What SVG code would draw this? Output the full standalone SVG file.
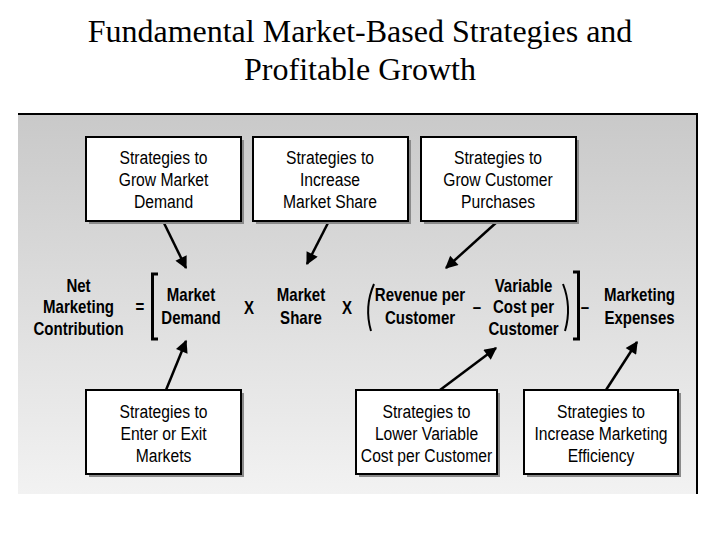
<svg xmlns="http://www.w3.org/2000/svg" width="720" height="540" viewBox="0 0 720 540">
<defs>
<linearGradient id="bg" x1="0" y1="0" x2="0" y2="1">
<stop offset="0" stop-color="#c9c9c9"/>
<stop offset="1" stop-color="#f2f2f2"/>
</linearGradient>
<marker id="ah2" viewBox="0 0 10 10" refX="9" refY="5" markerWidth="5.5" markerHeight="5" orient="auto">
<path d="M0,0 L10,5 L0,10 z" fill="#000"/>
</marker>
</defs>
<style>
.title{font-family:"Liberation Serif","Times New Roman",serif;font-size:32px;fill:#000;text-anchor:middle}
.t{font-family:"Liberation Sans",Arial,sans-serif;font-size:18px;fill:#000;text-anchor:middle}
.e{font-family:"Liberation Sans",Arial,sans-serif;font-size:17.5px;font-weight:bold;fill:#000;text-anchor:middle}
.shadow{fill:#8a8a8a}
.box{fill:#fff;stroke:#000;stroke-width:2}
.c{stroke:#000;stroke-width:2.5;fill:none}
.br{stroke:#000;stroke-width:3;fill:none}
.pa{stroke:#000;stroke-width:2;fill:none}
</style>
<rect width="720" height="540" fill="#fff"/>
<text class="title" x="360" y="42">Fundamental Market-Based Strategies and</text>
<text class="title" x="360" y="80">Profitable Growth</text>
<g id="panel">
<rect x="18" y="114" width="679" height="380" fill="url(#bg)"/>
<path d="M18,114 H697 V494" stroke="#000" stroke-width="2" fill="none"/>
</g>
<g id="connectors">
<line class="c" x1="163" y1="221" x2="186" y2="268" marker-end="url(#ah2)"/>
<line class="c" x1="329" y1="221" x2="307" y2="264" marker-end="url(#ah2)"/>
<line class="c" x1="498" y1="221" x2="446" y2="268" marker-end="url(#ah2)"/>
<line class="c" x1="166" y1="390" x2="186" y2="341" marker-end="url(#ah2)"/>
<line class="c" x1="440" y1="390" x2="496" y2="348" marker-end="url(#ah2)"/>
<line class="c" x1="606" y1="390" x2="637" y2="342" marker-end="url(#ah2)"/>
</g>
<g id="box-grow-demand">
<rect class="shadow" x="89" y="140" width="155" height="84"/>
<rect class="box" x="86" y="137" width="155" height="84"/>
<text class="t" transform="translate(163.5,164) scale(0.87,1)">Strategies to</text>
<text class="t" transform="translate(163.5,186) scale(0.87,1)">Grow Market</text>
<text class="t" transform="translate(163.5,208) scale(0.87,1)">Demand</text>
</g>
<g id="box-increase-share">
<rect class="shadow" x="256" y="140" width="155" height="84"/>
<rect class="box" x="253" y="137" width="155" height="84"/>
<text class="t" transform="translate(330,164) scale(0.87,1)">Strategies to</text>
<text class="t" transform="translate(330,186) scale(0.87,1)">Increase</text>
<text class="t" transform="translate(330,208) scale(0.87,1)">Market Share</text>
</g>
<g id="box-grow-purchases">
<rect class="shadow" x="424" y="140" width="155" height="84"/>
<rect class="box" x="421" y="137" width="155" height="84"/>
<text class="t" transform="translate(498,164) scale(0.87,1)">Strategies to</text>
<text class="t" transform="translate(498,186) scale(0.87,1)">Grow Customer</text>
<text class="t" transform="translate(498,208) scale(0.87,1)">Purchases</text>
</g>
<g id="box-enter-exit">
<rect class="shadow" x="89" y="393" width="155" height="84"/>
<rect class="box" x="86" y="390" width="155" height="84"/>
<text class="t" transform="translate(163.5,418) scale(0.87,1)">Strategies to</text>
<text class="t" transform="translate(163.5,440) scale(0.87,1)">Enter or Exit</text>
<text class="t" transform="translate(163.5,462) scale(0.87,1)">Markets</text>
</g>
<g id="box-lower-cost">
<rect class="shadow" x="359" y="393" width="141" height="84"/>
<rect class="box" x="356" y="390" width="141" height="84"/>
<text class="t" transform="translate(426.5,418) scale(0.87,1)">Strategies to</text>
<text class="t" transform="translate(426.5,440) scale(0.87,1)">Lower Variable</text>
<text class="t" transform="translate(426.5,462) scale(0.87,1)">Cost per Customer</text>
</g>
<g id="box-efficiency">
<rect class="shadow" x="527" y="393" width="154" height="84"/>
<rect class="box" x="524" y="390" width="154" height="84"/>
<text class="t" transform="translate(601,418) scale(0.87,1)">Strategies to</text>
<text class="t" transform="translate(601,440) scale(0.87,1)">Increase Marketing</text>
<text class="t" transform="translate(601,462) scale(0.87,1)">Efficiency</text>
</g>
<g id="equation">
<text class="e" transform="translate(78.5,292) scale(0.86,1)">Net</text>
<text class="e" transform="translate(78.5,313) scale(0.86,1)">Marketing</text>
<text class="e" transform="translate(78.5,334.5) scale(0.86,1)">Contribution</text>
<text class="e" transform="translate(140,313) scale(0.86,1)">=</text>
<path class="br" d="M158,274 H152.5 V339 H158"/>
<text class="e" transform="translate(191,301) scale(0.86,1)">Market</text>
<text class="e" transform="translate(191,324) scale(0.86,1)">Demand</text>
<text class="e" transform="translate(249,314) scale(0.86,1)">X</text>
<text class="e" transform="translate(301,301) scale(0.86,1)">Market</text>
<text class="e" transform="translate(301,324) scale(0.86,1)">Share</text>
<text class="e" transform="translate(347,314) scale(0.86,1)">X</text>
<path class="pa" d="M374,284 Q364,307 371,331"/>
<text class="e" transform="translate(420,301) scale(0.86,1)">Revenue per</text>
<text class="e" transform="translate(420,324) scale(0.86,1)">Customer</text>
<text class="e" transform="translate(477,313) scale(0.86,1)">–</text>
<text class="e" transform="translate(523.5,291.5) scale(0.86,1)">Variable</text>
<text class="e" transform="translate(523.5,313) scale(0.86,1)">Cost per</text>
<text class="e" transform="translate(523.5,334.5) scale(0.86,1)">Customer</text>
<path class="pa" d="M563,284 Q572,307 565,331"/>
<path class="br" d="M573,272 H578.5 V339 H573"/>
<text class="e" transform="translate(585,313) scale(0.86,1)">–</text>
<text class="e" transform="translate(639.5,301) scale(0.86,1)">Marketing</text>
<text class="e" transform="translate(639.5,324) scale(0.86,1)">Expenses</text>
</g>
</svg>
